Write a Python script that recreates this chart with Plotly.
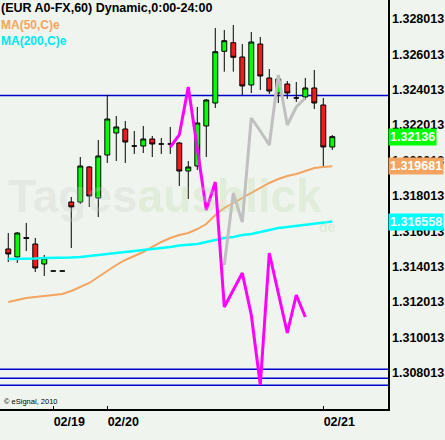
import plotly.graph_objects as go

# ---- data ----
bar_index = list(range(37))
opens  = [1.315007, 1.314554, 1.315650, 1.315289, 1.314158, 1.313762, 1.313762, 1.317664, 1.317664, 1.319644,
          1.317891, 1.320322, 1.321566, 1.321792, 1.320831, 1.320831, 1.321227, 1.320944, 1.320944, 1.321001,
          1.319417, 1.319700, 1.321962, 1.323263, 1.326186, 1.326673, 1.325864, 1.324281, 1.326599, 1.324677,
          1.323828, 1.324337, 1.323546, 1.323602, 1.324111, 1.323150, 1.320775]
highs  = [1.315911, 1.315968, 1.316477, 1.315629, 1.314667, 1.313762, 1.313762, 1.317947, 1.320209, 1.319700,
          1.321170, 1.323715, 1.322528, 1.322245, 1.321679, 1.321962, 1.321397, 1.321284, 1.321906, 1.321050,
          1.319983, 1.323037, 1.323489, 1.327504, 1.327391, 1.327674, 1.326599, 1.327278, 1.326995, 1.325185,
          1.324846, 1.324507, 1.324450, 1.324677, 1.325129, 1.323546, 1.321453]
lows   = [1.314271, 1.314215, 1.314893, 1.313706, 1.313480, 1.313762, 1.313762, 1.315063, 1.317551, 1.317382,
          1.316816, 1.319870, 1.319983, 1.319870, 1.320379, 1.320435, 1.320209, 1.320379, 1.320379, 1.318569,
          1.317834, 1.319474, 1.320209, 1.322980, 1.325033, 1.325033, 1.323715, 1.323828, 1.323998, 1.323772,
          1.323263, 1.323489, 1.323319, 1.323432, 1.322923, 1.319644, 1.320605]
closes = [1.314724, 1.315911, 1.315610, 1.313932, 1.314498, 1.313762, 1.313762, 1.317382, 1.319700, 1.318004,
          1.320266, 1.322358, 1.321906, 1.321057, 1.320831, 1.321227, 1.320944, 1.320944, 1.320944, 1.319417,
          1.319644, 1.322132, 1.323432, 1.326164, 1.326786, 1.325847, 1.324224, 1.326712, 1.324790, 1.323941,
          1.324620, 1.323828, 1.323546, 1.324111, 1.323263, 1.320775, 1.321360]

ma50  = [1.312009, 1.312122, 1.312236, 1.312292, 1.312349, 1.312405, 1.312462, 1.312631, 1.312858, 1.313084,
         1.313423, 1.313762, 1.314102, 1.314384, 1.314611, 1.314837, 1.315120, 1.315402, 1.315629, 1.315798,
         1.315911, 1.316137, 1.316420, 1.316929, 1.317325, 1.317608, 1.317891, 1.318173, 1.318456, 1.318739,
         1.318965, 1.319135, 1.319248, 1.319417, 1.319587, 1.319644, 1.319681]
ma200 = [1.314441, 1.314441, 1.314469, 1.314469, 1.314498, 1.314498, 1.314498, 1.314526, 1.314554, 1.314611,
         1.314667, 1.314724, 1.314780, 1.314808, 1.314893, 1.314950, 1.315006, 1.315063, 1.315120, 1.315204,
         1.315233, 1.315289, 1.315402, 1.315515, 1.315629, 1.315685, 1.315798, 1.315855, 1.315968, 1.316081,
         1.316194, 1.316251, 1.316307, 1.316364, 1.316420, 1.316477, 1.316558]

magenta_index = list(range(18, 34))
magenta_vals = [1.320775, 1.321453, 1.324168, 1.320605, 1.317212, 1.318795, 1.311727, 1.312688,
                1.313649, 1.311274, 1.307316, 1.314780, 1.312518, 1.310256, 1.312405, 1.311161]
grey_index = list(range(24, 34))
grey_vals = [1.314102, 1.318173, 1.316533, 1.322415, 1.321679, 1.320888, 1.324846, 1.322019, 1.323037, 1.323546]

hlines_blue = [1.323687, 1.308203, 1.307695, 1.307299]

date_ticks = [5, 11, 35]
date_labels = ["02/19", "02/20", "02/21"]

price_ticks = [1.308013 + 0.002 * k for k in range(11)]
price_labels = ["%.6f" % v for v in price_ticks]

last_price = closes[-1]
last_ma50 = ma50[-1]
last_ma200 = ma200[-1]

FONT = "Liberation Sans, Arial, sans-serif"

fig = go.Figure()

for v in hlines_blue:
    fig.add_shape(type="line", xref="paper", x0=0, x1=1, yref="y", y0=v, y1=v,
                  line=dict(color="#0000cc", width=1.5), layer="below")

fig.add_trace(go.Scatter(x=bar_index, y=ma50, mode="lines",
                         line=dict(color="#f4a460", width=2), hoverinfo="skip"))
fig.add_trace(go.Scatter(x=bar_index, y=ma200, mode="lines",
                         line=dict(color="#00ffff", width=2.5), hoverinfo="skip"))
fig.add_trace(go.Scatter(x=grey_index, y=grey_vals, mode="lines",
                         line=dict(color="#c0c0c0", width=3), hoverinfo="skip"))
fig.add_trace(go.Scatter(x=magenta_index, y=magenta_vals, mode="lines",
                         line=dict(color="#ff00ff", width=3), hoverinfo="skip"))

fig.add_trace(go.Candlestick(
    x=bar_index, open=opens, high=highs, low=lows, close=closes,
    increasing=dict(line=dict(color="black", width=1), fillcolor="#00ff00"),
    decreasing=dict(line=dict(color="black", width=1), fillcolor="#ee1c1c"),
    whiskerwidth=0, hoverinfo="skip"))

# watermark
fig.add_annotation(xref="paper", yref="paper", x=0.015, y=0.52, xanchor="left", yanchor="middle",
                   text="<b><span style='color:rgba(200,205,200,0.28)'>Tages</span>"
                        "<span style='color:rgba(190,215,170,0.3)'>ausblick</span></b>",
                   showarrow=False, font=dict(family=FONT, size=46))
fig.add_annotation(xref="paper", yref="paper", x=0.87, y=0.445, xanchor="right", yanchor="middle",
                   text="<b>de</b>", showarrow=False,
                   font=dict(family=FONT, size=14, color="rgba(200,215,190,0.4)"))

# legend texts
fig.add_annotation(xref="paper", yref="paper", x=0, y=1.0, xanchor="left", yanchor="top", yshift=1, xshift=-1,
                   text="<b>(EUR A0-FX,60) Dynamic,0:00-24:00</b>", showarrow=False,
                   font=dict(family=FONT, size=12.5, color="black"))
fig.add_annotation(xref="paper", yref="paper", x=0, y=1.0, xanchor="left", yanchor="top", yshift=-16, xshift=-1,
                   text="<b>MA(50,C)e</b>", showarrow=False,
                   font=dict(family=FONT, size=12, color="#f4a460"))
fig.add_annotation(xref="paper", yref="paper", x=0, y=1.0, xanchor="left", yanchor="top", yshift=-32, xshift=-1,
                   text="<b>MA(200,C)e</b>", showarrow=False,
                   font=dict(family=FONT, size=12, color="#00e5ee"))
fig.add_annotation(xref="paper", yref="paper", x=0.005, y=0.0, xanchor="left", yanchor="bottom", yshift=1,
                   text="© eSignal, 2010", showarrow=False,
                   font=dict(family=FONT, size=7.5, color="black"))

# price tags on the axis
for val, txt, col in [(last_price, "%.5f" % last_price, "#00ff00"),
                      (last_ma50, "%.6f" % last_ma50, "#f4a460"),
                      (last_ma200, "%.6f" % last_ma200, "#00ffff")]:
    fig.add_annotation(xref="paper", yref="y", x=1, y=val, xanchor="left", yanchor="middle",
                       xshift=0, text="<b>%s</b>" % txt, showarrow=False, bgcolor=col,
                       borderpad=1, font=dict(family=FONT, size=12.5, color="white"))

fig.update_layout(
    width=445, height=440,
    margin=dict(l=0, r=57, t=0, b=31),
    paper_bgcolor="#eff5ee", plot_bgcolor="#eff5ee",
    showlegend=False, boxgap=0.22,
    xaxis=dict(range=[-0.92, 42.19], showgrid=False, zeroline=False, rangeslider=dict(visible=False),
               tickvals=date_ticks, ticktext=["<b>%s</b>" % t for t in date_labels],
               ticks="inside", ticklen=3, tickcolor="black",
               showline=True, linecolor="black", linewidth=1.5, ticklabelshift=16,
               tickfont=dict(family=FONT, size=12.5, color="black")),
    yaxis=dict(range=[1.305958, 1.329087], side="right", showgrid=False, zeroline=False,
               tickvals=price_ticks, ticktext=["<b>%s</b>" % t for t in price_labels], ticks="",
               showline=True, linecolor="black", linewidth=1.5,
               tickfont=dict(family=FONT, size=12.5, color="black")),
)

fig.write_html("out.html", config={"displayModeBar": False, "staticPlot": True},
               post_script="document.body.style.margin='0';document.body.style.overflow='hidden';")
